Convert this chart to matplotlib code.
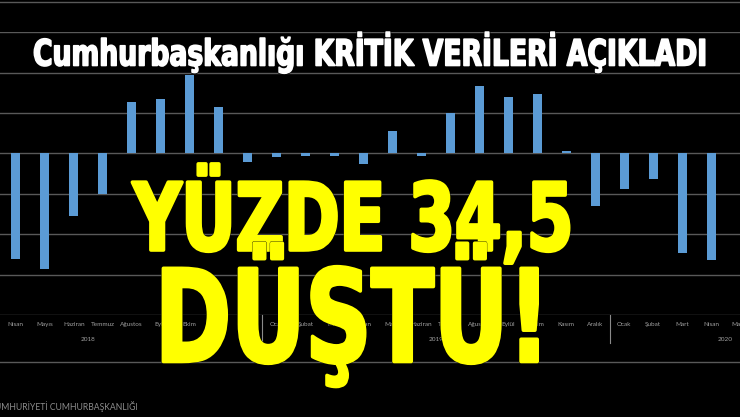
import numpy as np
import matplotlib
matplotlib.use("Agg")
import matplotlib.pyplot as plt
from matplotlib.lines import Line2D
from matplotlib.patheffects import AbstractPathEffect
from matplotlib.transforms import Affine2D, Bbox, blended_transform_factory

# aylar: Nisan 2018 - Mayıs 2020
months = ["Nisan", "Mayıs", "Haziran", "Temmuz", "Ağustos", "Eylül", "Ekim", "Kasım", "Aralık",
          "Ocak", "Şubat", "Mart", "Nisan", "Mayıs", "Haziran", "Temmuz", "Ağustos", "Eylül",
          "Ekim", "Kasım", "Aralık",
          "Ocak", "Şubat", "Mart", "Nisan", "Mayıs"]
values = [-26.1, -28.5, -15.4, -10.1, 12.7, 13.5, 19.4, 11.5, -2.2,
          -0.8, -0.6, -0.6, -2.5, 5.5, -0.6, 10.1, 16.7, 14.0,
          14.6, 0.6, -13.1,
          -8.8, -6.4, -24.7, -26.3, np.nan]
# yil gruplari (ilk ay, son ay)
year_groups = [("2018", 1, 12), ("2019", 1, 12), ("2020", 1, 8)]
first_year, first_month = 2018, 4

title = "Cumhurbaşkanlığı KRİTİK VERİLERİ AÇIKLADI"
line1 = "YÜZDE 34,5"
line2 = "DÜŞTÜ!"
footer = "TÜRKİYE CUMHURİYETİ CUMHURBAŞKANLIĞI"

W, H = 740, 417
BLUE = "#5B9BD5"
GRID = "#595959"


class Squeeze(AbstractPathEffect):
    """yaziyi yatayda sikistir (dar font yok)"""
    def __init__(self, sx, edge=None, edge_lw=0.0, fat=0.0):
        super().__init__()
        self.sx = sx
        self.edge = edge
        self.edge_lw = edge_lw
        self.fat = fat

    def draw_path(self, renderer, gc, tpath, affine, rgbFace=None):
        aff = Affine2D().scale(self.sx, 1.0) + affine
        if self.edge is not None:
            g = renderer.new_gc()
            g.copy_properties(gc)
            g.set_foreground(self.edge)
            g.set_linewidth(self.edge_lw)
            g.set_joinstyle("round")
            renderer.draw_path(g, tpath, aff, None)
            g.restore()
        if self.fat:
            g = renderer.new_gc()
            g.copy_properties(gc)
            g.set_foreground(rgbFace)
            g.set_linewidth(self.fat)
            g.set_joinstyle("round")
            renderer.draw_path(g, tpath, aff, rgbFace)
            g.restore()
        else:
            renderer.draw_path(gc, tpath, aff, rgbFace)


def fx(x):
    return x / W


def fy(y):
    return 1 - y / H


fig = plt.figure(figsize=(W / 100, H / 100), dpi=100, facecolor="black")
ax = fig.add_axes([0, fy(315), 1, (315 - 32.3) / H], facecolor="black")

x = np.arange(len(months))
ax.bar(x, values, width=0.31, color=BLUE, zorder=3)

ax.set_ylim(-40, 30)
ax.set_yticks(np.arange(-40, 31, 10))
ax.yaxis.grid(True, color=GRID, linewidth=1.0)
ax.set_axisbelow(True)
ax.set_xlim(-16 / 29.21, (W - 16) / 29.21)
for s in ax.spines.values():
    s.set_visible(False)
ax.tick_params(axis="y", left=False, labelleft=False)
ax.set_xticks(x, months)
ax.tick_params(axis="x", length=0, pad=5, labelsize=4.6, labelcolor="#a0a0a0")
for lab in ax.get_xticklabels():
    lab.set_family("Lato")

# yil etiketleri ve ayiraclar
bt = blended_transform_factory(ax.transData, fig.transFigure)
for yr, m0, m1 in year_groups:
    i0 = (int(yr) - first_year) * 12 + (m0 - first_month)
    i1 = (int(yr) - first_year) * 12 + (m1 - first_month)
    ax.text((i0 + i1) / 2, fy(339.5), yr, transform=bt, ha="center", va="center",
            fontsize=4.6, color="#a0a0a0", family="Lato", clip_on=False)
    ax.add_line(Line2D([i0 - 0.5, i0 - 0.5], [fy(315), fy(343)], transform=bt,
                       color="#8a8a8a", linewidth=0.8, clip_on=False))

# cerceve cizgileri
for yy in (1.7, 361.7):
    fig.add_artist(Line2D([0, 1], [fy(yy), fy(yy)], color=GRID, linewidth=1.0))

fig.text(fx(138), fy(410), footer, ha="right", va="baseline", fontsize=6.2,
         color="#8c8c8c", family="Lato")

renderer = fig.canvas.get_renderer()


def squeezed(x0, ybase, s, target_w, size, color, edge_lw, fat):
    t = fig.text(fx(x0), fy(ybase), s, ha="left", va="baseline", fontsize=size,
                 color=color, family="DejaVu Sans", weight="bold", zorder=10)
    w = t.get_window_extent(renderer).width
    sx = target_w / w
    t.set_path_effects([Squeeze(sx, edge="black", edge_lw=edge_lw, fat=fat)])
    # kutuyu da sikistir
    orig = t.get_window_extent

    def ext(*a, **k):
        bb = orig(*a, **k)
        return Bbox.from_extents(bb.x0, bb.y0, bb.x0 + bb.width * sx, bb.y1)
    t.get_window_extent = ext
    return t


squeezed(33, 65.5, title, 675, 26, "white", 2.2, 1.2)
squeezed(133, 250, line1, 440, 67, "#FFFF00", 3.0, 2.6)
squeezed(155, 361.5, line2, 395, 92, "#FFFF00", 3.0, 2.6)

fig.savefig("out.png", dpi=100, facecolor="black")
